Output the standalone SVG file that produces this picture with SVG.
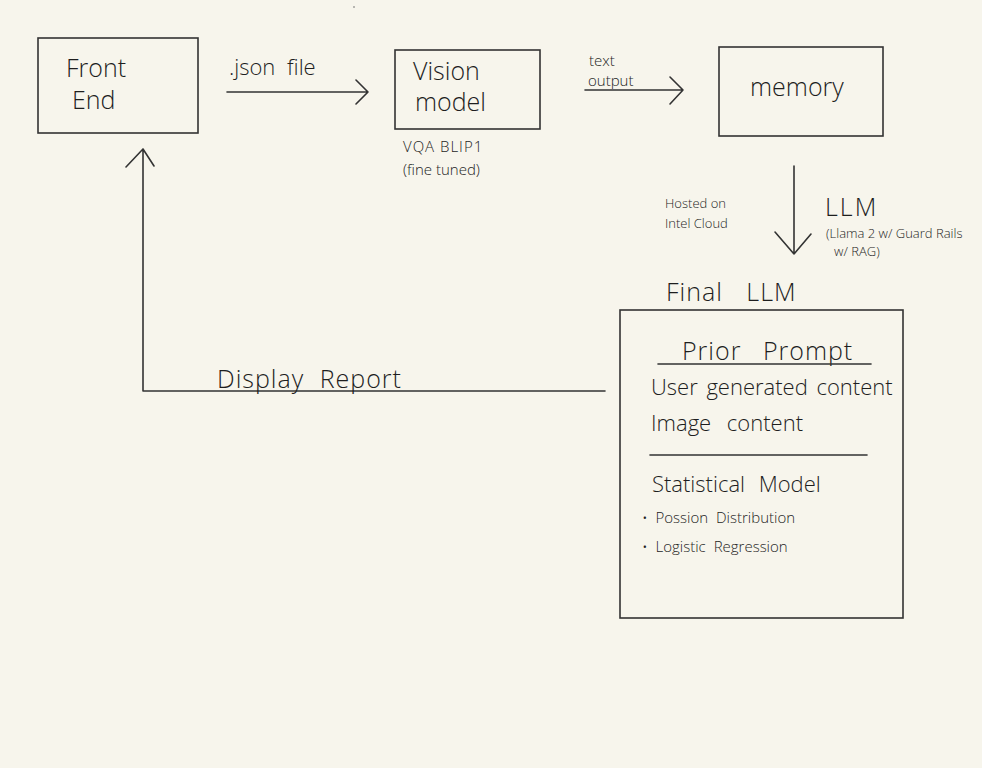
<svg xmlns="http://www.w3.org/2000/svg" width="982" height="768" viewBox="0 0 982 768">
<style>
.bg{fill:#f7f5ec}
.box{fill:none;stroke:#333;stroke-width:1.6}
.ln{fill:none;stroke:#333;stroke-width:1.6;stroke-linecap:round;stroke-linejoin:round}
text{font-family:"Open Sans","Liberation Sans",sans-serif;fill:#1e1e1e;font-weight:300}
.big{font-size:25px}
.mid{font-size:22px}
.sm{font-size:15px}
.xs{font-size:13px}
</style>
<rect class="bg" x="0" y="0" width="982" height="768"/>
<circle cx="354" cy="7" r="0.8" fill="#666"/>
<g id="connectors">
  <path class="ln" d="M227 92 H368 M356 80 L368 92 L356 104"/>
  <path class="ln" d="M585 90 H683 M670 77 L683 90 L670 104"/>
  <path class="ln" d="M794 166 V254 M775 232 L794 254 L811 234"/>
  <path class="ln" d="M605 391 H143 V149 M126 167 L143 149 L154 166"/>
  <text class="mid" x="229" y="75" word-spacing="6">.json file</text>
  <text class="sm" x="589" y="66">text</text>
  <text class="sm" x="588" y="86">output</text>
  <text class="xs" x="665" y="208">Hosted on</text>
  <text class="xs" x="665" y="228">Intel Cloud</text>
  <text class="big" x="825" y="216" letter-spacing="2">LLM</text>
  <text class="xs" x="826" y="238">(Llama 2 w/ Guard Rails</text>
  <text class="xs" x="834" y="256">w/ RAG)</text>
  <text class="big" x="217" y="388" letter-spacing="1" word-spacing="8">Display Report</text>
</g>
<g id="front-end">
  <rect class="box" x="38" y="38" width="160" height="95"/>
  <text class="big" x="66" y="77">Front</text>
  <text class="big" x="72" y="109">End</text>
</g>
<g id="vision-model">
  <rect class="box" x="395" y="50" width="145" height="79"/>
  <text class="big" x="413" y="80">Vision</text>
  <text class="big" x="415" y="111">model</text>
  <text class="sm" x="403" y="152" letter-spacing="1">VQA BLIP1</text>
  <text class="sm" x="403" y="175">(fine tuned)</text>
</g>
<g id="memory">
  <rect class="box" x="719" y="47" width="164" height="89"/>
  <text class="big" x="750" y="96">memory</text>
</g>
<g id="final-llm">
  <text class="big" x="666" y="301" word-spacing="16" letter-spacing="1">Final LLM</text>
  <rect class="box" x="620" y="310" width="283" height="308"/>
  <text class="big" x="682" y="360" word-spacing="14" letter-spacing="1">Prior Prompt</text>
  <path class="ln" d="M658 364 H871"/>
  <text class="mid" x="651" y="395" word-spacing="3">User generated content</text>
  <text class="mid" x="651" y="431" word-spacing="10">Image content</text>
  <path class="ln" d="M650 455 H867"/>
  <text class="mid" x="652" y="492" word-spacing="8">Statistical Model</text>
  <text class="sm" x="642" y="523" word-spacing="4">• Possion Distribution</text>
  <text class="sm" x="642" y="552" word-spacing="4">• Logistic Regression</text>
</g>
</svg>
